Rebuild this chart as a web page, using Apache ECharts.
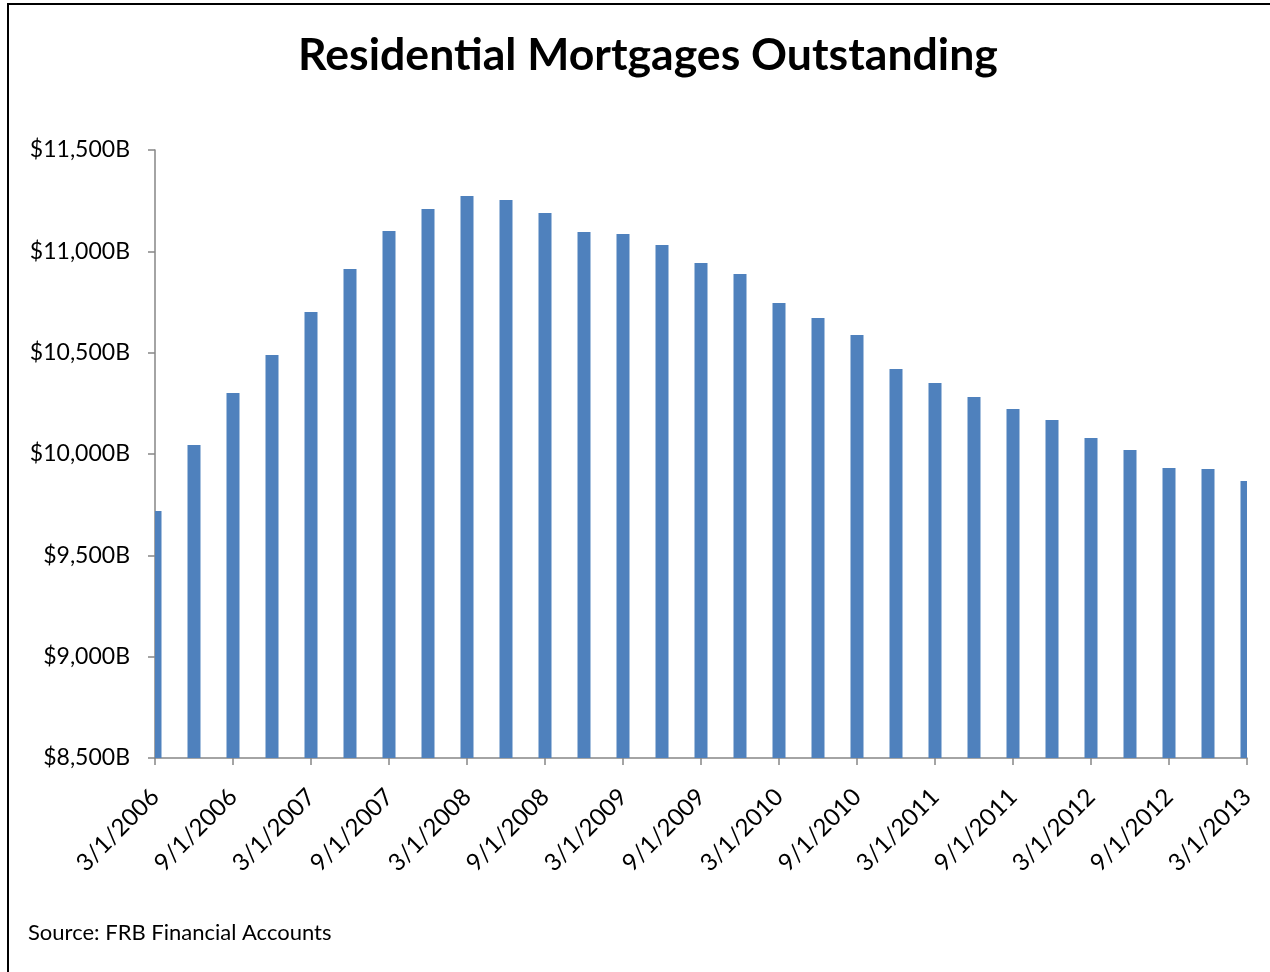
<!DOCTYPE html>
<html>
<head>
<meta charset="utf-8">
<script src="https://cdn.jsdelivr.net/npm/echarts@6/dist/echarts.min.js"></script>
<style>
  html, body { margin: 0; padding: 0; background: #fff; }
  #chart { width: 1270px; height: 972px; }
</style>
</head>
<body>
<div id="chart"></div>
<script>
// Quarterly observation dates
const quarters = [
  '3/1/2006', '6/1/2006', '9/1/2006', '12/1/2006',
  '3/1/2007', '6/1/2007', '9/1/2007', '12/1/2007',
  '3/1/2008', '6/1/2008', '9/1/2008', '12/1/2008',
  '3/1/2009', '6/1/2009', '9/1/2009', '12/1/2009',
  '3/1/2010', '6/1/2010', '9/1/2010', '12/1/2010',
  '3/1/2011', '6/1/2011', '9/1/2011', '12/1/2011',
  '3/1/2012', '6/1/2012', '9/1/2012', '12/1/2012',
  '3/1/2013'
];

// Residential mortgages outstanding, billions of dollars
const mortgages = [
  9719, 10044, 10301, 10488,
  10701, 10913, 11100, 11209,
  11273, 11253, 11189, 11095,
  11085, 11031, 10942, 10888,
  10745, 10671, 10587, 10419,
  10350, 10281, 10222, 10168,
  10079, 10020, 9931, 9926,
  9867
];

const yMin = 8500, yMax = 11500, yStep = 500;

const FONT = 'Lato, "Open Sans", sans-serif';
const BAR_WIDTH = 13;
const chart = echarts.init(document.getElementById('chart'), null, { renderer: 'canvas' });

// Bars centred on each date tick, cut off at the plot edges
function renderBar(params, api) {
  const top = api.coord([api.value(0), api.value(1)]);
  const base = api.coord([api.value(0), yMin]);
  const cs = params.coordSys;
  const shape = echarts.graphic.clipRectByRect(
    { x: top[0] - BAR_WIDTH / 2, y: top[1], width: BAR_WIDTH, height: base[1] - top[1] },
    { x: cs.x, y: cs.y, width: cs.width, height: cs.height }
  );
  return shape && { type: 'rect', shape: shape, style: { fill: '#4f81bd' } };
}

chart.setOption({
  backgroundColor: '#ffffff',
  animation: false,
  title: {
    text: 'Residential Mortgages Outstanding',
    left: 643,
    top: 28,
    textAlign: 'center',
    textStyle: { fontFamily: FONT, fontWeight: 'bold', fontSize: 44.6, color: '#000' }
  },
  grid: { left: 155, right: 23, top: 150, bottom: 214, containLabel: false },
  xAxis: {
    type: 'category',
    data: quarters,
    boundaryGap: false,
    axisLine: { lineStyle: { color: '#868686', width: 1.5 } },
    axisTick: { show: true, interval: 1, length: 7, lineStyle: { color: '#868686', width: 1.5 } },
    axisLabel: {
      interval: 1,
      rotate: 45,
      margin: 35,
      fontFamily: FONT,
      fontSize: 24,
      color: '#000'
    },
    splitLine: { show: false }
  },
  yAxis: {
    type: 'value',
    min: yMin,
    max: yMax,
    interval: yStep,
    axisLine: { show: true, lineStyle: { color: '#868686', width: 1.5 } },
    axisTick: { show: true, length: 7, lineStyle: { color: '#868686', width: 1.5 } },
    axisLabel: {
      margin: 25,
      fontFamily: FONT,
      fontSize: 23,
      color: '#000',
      formatter: v => '$' + v.toLocaleString('en-US') + 'B'
    },
    splitLine: { show: false }
  },
  series: [{
    type: 'custom',
    renderItem: renderBar,
    data: mortgages.map((v, i) => [i, v]),
    encode: { x: 0, y: 1 }
  }],
  graphic: [
    {
      type: 'rect',
      shape: { x: 8, y: 4, width: 1300, height: 1000 },
      style: { fill: 'none', stroke: '#000', lineWidth: 2 },
      silent: true
    },
    {
      type: 'text',
      left: 28,
      top: 922,
      style: { text: 'Source: FRB Financial Accounts', font: '22px ' + FONT, fill: '#000' }
    }
  ]
});
</script>
</body>
</html>
